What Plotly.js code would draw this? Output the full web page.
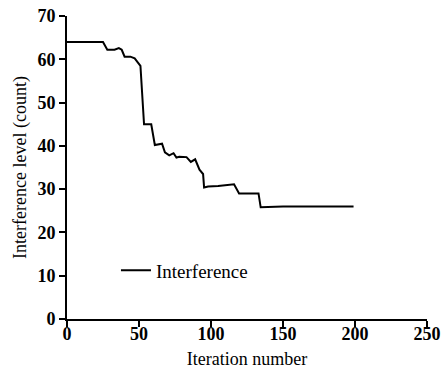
<!DOCTYPE html>
<html>
<head>
<meta charset="utf-8">
<script src="https://cdn.plot.ly/plotly-3.0.1.min.js"></script>
<style>html,body{margin:0;padding:0;background:#fff;}#chart{width:444px;height:371px;}</style>
</head>
<body>
<div id="chart"></div>
<script>
var iteration = [0, 25, 28, 33, 36, 38, 40, 44, 47, 51, 53.5, 58.5, 61, 66, 68, 71, 74, 76, 78, 83, 86, 89, 92, 94.5, 95.2, 98, 105, 112, 116, 119.5, 133, 134.5, 150, 199];
var interference = [64, 64, 62.2, 62.2, 62.6, 62.2, 60.6, 60.6, 60.2, 58.5, 45, 45, 40.2, 40.5, 38.5, 37.8, 38.3, 37.3, 37.5, 37.4, 36.3, 36.9, 34.5, 33.5, 30.4, 30.6, 30.7, 30.9, 31.1, 29, 29, 25.8, 26, 26];
var xTicks = [0, 50, 100, 150, 200, 250];
var yTicks = [0, 10, 20, 30, 40, 50, 60, 70];

var fam = "Liberation Serif";
Plotly.newPlot('chart', [{
  x: iteration, y: interference, type: 'scatter', mode: 'lines',
  name: 'Interference', line: {color: '#000', width: 2}
}], {
  width: 444, height: 371,
  margin: {l: 67, r: 17, t: 16, b: 52},
  paper_bgcolor: '#fff', plot_bgcolor: '#fff',
  font: {family: fam, color: '#000', size: 18},
  showlegend: true,
  legend: {x: 0.136, y: 0.16, xanchor: 'left', yanchor: 'middle', bgcolor: 'rgba(0,0,0,0)',
    font: {size: 19, color: '#000'}},
  xaxis: {
    range: [0, 250], tickvals: xTicks, ticktext: xTicks.map(String),
    showline: true, linecolor: '#000', linewidth: 2, showgrid: false, zeroline: false,
    ticks: 'outside', ticklen: 6, tickwidth: 2, tickcolor: '#000', ticklabelstandoff: -9,
    tickfont: {family: fam, size: 18, color: '#000', weight: 'bold'},
    title: {text: 'Iteration number', font: {size: 18, color: '#000'}, standoff: 10}
  },
  yaxis: {
    range: [0, 70], tickvals: yTicks, ticktext: yTicks.map(String),
    showline: true, linecolor: '#000', linewidth: 2, showgrid: false, zeroline: false,
    ticks: 'outside', ticklen: 6, tickwidth: 2, tickcolor: '#000',
    tickfont: {family: fam, size: 18, color: '#000', weight: 'bold'},
    title: {text: 'Interference level (count)', font: {size: 18, color: '#000'}, standoff: 6}
  }
}, {displayModeBar: false, staticPlot: true});
</script>
</body>
</html>
